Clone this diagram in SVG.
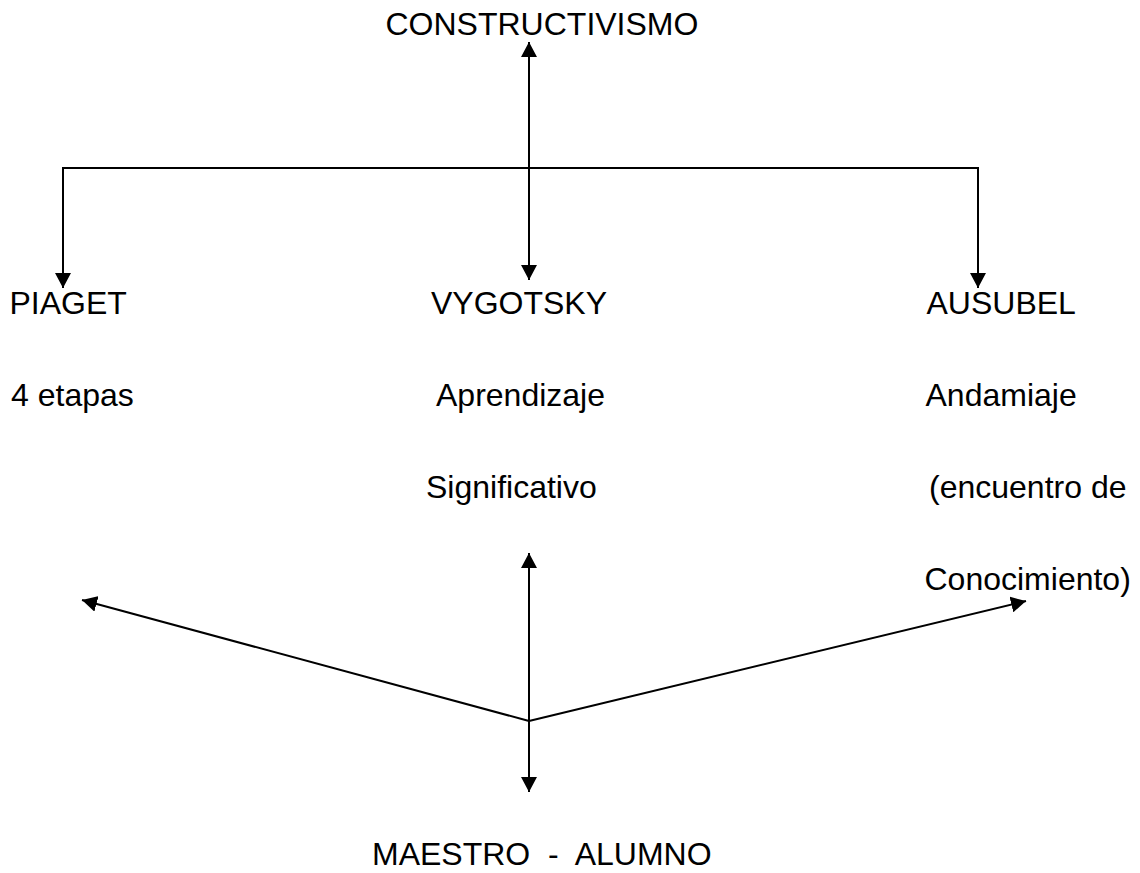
<svg xmlns="http://www.w3.org/2000/svg" width="1140" height="873" viewBox="0 0 1140 873">
  <style>
    .t { font-family: "Liberation Sans", Arial, sans-serif; font-size: 32px; fill: #000; }
    .c { fill: none; stroke: #000; stroke-width: 2; }
  </style>
  <defs>
    <marker id="ah" markerUnits="userSpaceOnUse" markerWidth="16" markerHeight="16" refX="15" refY="8" orient="auto-start-reverse" viewBox="0 0 16 16">
      <path d="M0,0 L15,8 L0,16 z" fill="#000"/>
    </marker>
  </defs>
  <rect width="1140" height="873" fill="#fff"/>
  <g id="connectors">
    <line class="c" x1="529" y1="42" x2="529" y2="280" marker-start="url(#ah)" marker-end="url(#ah)"/>
    <polyline class="c" points="63,288 63,168 978,168 978,288" marker-start="url(#ah)" marker-end="url(#ah)"/>
    <line class="c" x1="529" y1="553" x2="529" y2="792" marker-start="url(#ah)" marker-end="url(#ah)"/>
    <line class="c" x1="529" y1="721" x2="82" y2="600" marker-end="url(#ah)"/>
    <line class="c" x1="529" y1="721" x2="1026" y2="601" marker-end="url(#ah)"/>
  </g>
  <g id="constructivismo"><text class="t" x="385.5" y="35">CONSTRUCTIVISMO</text></g>
  <g id="piaget">
    <text class="t" x="9.5" y="314">PIAGET</text>
    <text class="t" x="11" y="406">4 etapas</text>
  </g>
  <g id="vygotsky">
    <text class="t" x="431" y="314">VYGOTSKY</text>
    <text class="t" x="436" y="406">Aprendizaje</text>
    <text class="t" x="426" y="498">Significativo</text>
  </g>
  <g id="ausubel">
    <text class="t" x="926.5" y="314">AUSUBEL</text>
    <text class="t" x="925.5" y="406">Andamiaje</text>
    <text class="t" x="929" y="498" xml:space="preserve">(encuentro de</text>
    <text class="t" x="924.5" y="590">Conocimiento)</text>
  </g>
  <g id="maestro-alumno"><text class="t" x="372" y="865" xml:space="preserve">MAESTRO  -  ALUMNO</text></g>
</svg>
